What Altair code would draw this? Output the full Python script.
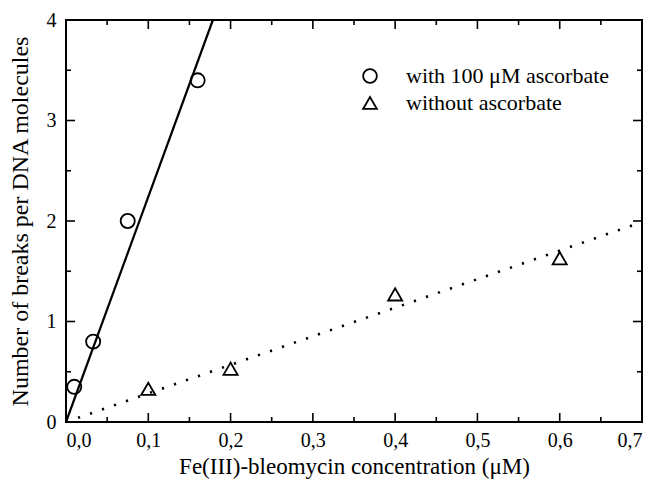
import altair as alt
import pandas as pd

# ---------------- data ----------------
series_names = ["with 100 μM ascorbate", "without ascorbate"]

asc_x = [0.010, 0.033, 0.075, 0.160]
asc_y = [0.35, 0.80, 2.00, 3.40]

noasc_x = [0.10, 0.20, 0.40, 0.60]
noasc_y = [0.33, 0.53, 1.27, 1.63]

fit_asc_x = [0.0, 0.1785]
fit_asc_y = [0.0, 4.0]

fit_noasc_x = [0.0, 0.70]
fit_noasc_y = [0.0, 1.99]

x_major = [0.0, 0.1, 0.2, 0.3, 0.4, 0.5, 0.6, 0.7]
x_minor = [0.05, 0.15, 0.25, 0.35, 0.45, 0.55, 0.65]
y_major = [0, 1, 2, 3, 4]
y_minor = [0.5, 1.5, 2.5, 3.5]

x_title = "Fe(III)-bleomycin concentration (μM)"
y_title = "Number of breaks per DNA molecules"

# ---------------- layout / style ----------------
W, H = 576, 402
FONT = "Liberation Serif, Times New Roman, Times, serif"
MAJ, MIN = 9, 5

xscale = alt.Scale(domain=[0, 0.7], nice=False, zero=False)
yscale = alt.Scale(domain=[0, 4], nice=False, zero=False)

xaxis = alt.Axis(
    values=x_major,
    labelExpr="replace(format(datum.value, '.1f'), '.', ',')",
    ticks=False, domain=False, grid=False,
    labelFont=FONT, labelFontSize=20, labelColor="black", labelPadding=8,
    titleFont=FONT, titleFontSize=23, titleFontWeight="normal",
    titleColor="black", titlePadding=5,
)
yaxis = alt.Axis(
    values=y_major,
    labelExpr="format(datum.value, 'd')",
    ticks=False, domain=False, grid=False,
    labelFont=FONT, labelFontSize=20, labelColor="black", labelPadding=10,
    titleFont=FONT, titleFontSize=24, titleFontWeight="normal",
    titleColor="black", titlePadding=14,
)


def X():
    return alt.X("x:Q", scale=xscale, axis=xaxis, title=x_title)


def Y():
    return alt.Y("y:Q", scale=yscale, axis=yaxis, title=y_title)


# fitted lines
line_asc = alt.Chart(pd.DataFrame({"x": fit_asc_x, "y": fit_asc_y})).mark_line(
    color="black", strokeWidth=2.2
).encode(x=X(), y=Y())

line_noasc = alt.Chart(pd.DataFrame({"x": fit_noasc_x, "y": fit_noasc_y})).mark_line(
    color="black", strokeWidth=2.6, strokeDash=[2.2, 10.5]
).encode(x=X(), y=Y())

# points
pts = pd.DataFrame({
    "x": asc_x + noasc_x,
    "y": asc_y + noasc_y,
    "series": [series_names[0]] * len(asc_x) + [series_names[1]] * len(noasc_x),
})
points = alt.Chart(pts).mark_point(
    filled=False, color="black", strokeWidth=1.8, size=200, opacity=1
).encode(
    x=X(), y=Y(),
    shape=alt.Shape(
        "series:N",
        scale=alt.Scale(domain=series_names, range=["circle", "triangle-up"]),
        title=None,
        legend=alt.Legend(
            orient="none", legendX=293, legendY=45, padding=0,
            labelFont=FONT, labelFontSize=22, labelColor="black",
            labelLimit=400,
            symbolStrokeColor="black", symbolFillColor="white",
            symbolStrokeWidth=1.8, symbolSize=190, symbolOpacity=1,
            labelOffset=25, rowPadding=5,
        ),
    ),
)


# inward ticks on all four sides
def xticks(vals, L, top):
    y0, y1 = (0, L) if top else (H, H - L)
    return alt.Chart(pd.DataFrame({"x": vals})).mark_rule(
        color="black", strokeWidth=1.6
    ).encode(x=X(), y=alt.value(y0), y2=alt.value(y1))


def yticks(vals, L, right):
    x0, x1 = (W, W - L) if right else (0, L)
    return alt.Chart(pd.DataFrame({"y": vals})).mark_rule(
        color="black", strokeWidth=1.6
    ).encode(y=Y(), x=alt.value(x0), x2=alt.value(x1))


ticks = [
    xticks(x_major, MAJ, False), xticks(x_minor, MIN, False),
    xticks(x_major, MAJ, True), xticks(x_minor, MIN, True),
    yticks(y_major, MAJ, False), yticks(y_minor, MIN, False),
    yticks(y_major, MAJ, True), yticks(y_minor, MIN, True),
]

chart = alt.layer(
    *ticks, line_asc, line_noasc, points
).properties(
    width=W, height=H,
    autosize=alt.AutoSizeParams(type="none"),
    padding={"left": 58, "top": 12, "right": 8, "bottom": 59},
    background="white",
).configure_view(
    stroke="black", strokeWidth=2
)

chart.save("out.html", embed_options={"renderer": "svg", "actions": False})
